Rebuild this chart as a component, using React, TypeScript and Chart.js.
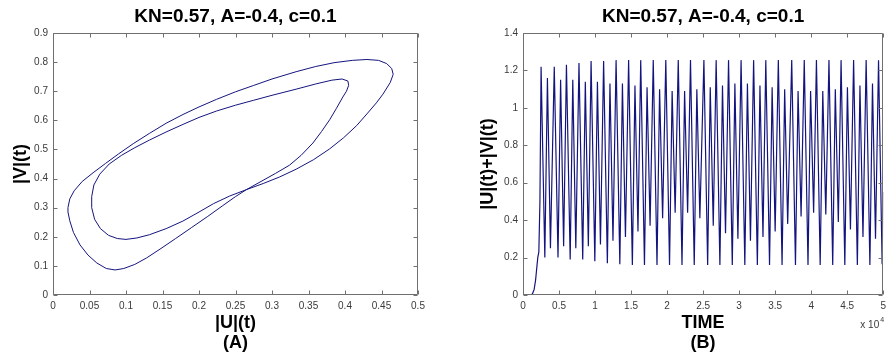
import React, { useEffect, useRef } from "react";
import { Chart, registerables } from "chart.js";

Chart.register(...registerables);

const FONT = "'Liberation Sans', Arial, Helvetica, sans-serif";
Chart.defaults.font.family = FONT;

const TITLE = "KN=0.57, A=-0.4, c=0.1";

// ---- Panel (A): phase portrait |U|(t) vs |V|(t) (closed period-2 orbit) ----
const phaseU = [
  0.0205, 0.023, 0.029, 0.040, 0.055, 0.072, 0.090, 0.110, 0.132, 0.155, 0.178, 0.200, 0.224, 0.250, 0.275, 0.300,
  0.333, 0.360, 0.385, 0.410, 0.430, 0.446, 0.457, 0.464, 0.466, 0.462, 0.452, 0.443, 0.430, 0.416, 0.398, 0.379,
  0.357, 0.333, 0.310, 0.288, 0.265,
  0.242, 0.220, 0.200, 0.178, 0.155, 0.132, 0.115, 0.100, 0.088, 0.076, 0.065, 0.057, 0.053, 0.053, 0.056, 0.064,
  0.077, 0.094, 0.112, 0.132, 0.155, 0.178, 0.200, 0.224, 0.250, 0.275, 0.300, 0.333, 0.360, 0.382, 0.396, 0.404,
  0.405, 0.402, 0.397, 0.388, 0.379, 0.368, 0.356, 0.340, 0.324, 0.305, 0.285, 0.265,
  0.250, 0.232, 0.212, 0.190, 0.168, 0.148, 0.128, 0.112, 0.097, 0.085, 0.073, 0.060, 0.048, 0.037, 0.028, 0.023,
  0.0205, 0.0205,
];
const phaseV = [
  0.300, 0.330, 0.358, 0.390, 0.420, 0.452, 0.485, 0.520, 0.555, 0.590, 0.620, 0.646, 0.672, 0.698, 0.720, 0.742,
  0.767, 0.785, 0.798, 0.806, 0.809, 0.806, 0.795, 0.778, 0.758, 0.730, 0.690, 0.660, 0.622, 0.582, 0.540, 0.502,
  0.465, 0.432, 0.405, 0.383, 0.362,
  0.340, 0.314, 0.285, 0.254, 0.228, 0.207, 0.196, 0.191, 0.194, 0.205, 0.228, 0.260, 0.300, 0.338, 0.378, 0.415,
  0.450, 0.480, 0.506, 0.532, 0.560, 0.586, 0.610, 0.632, 0.652, 0.669, 0.686, 0.707, 0.725, 0.738, 0.742, 0.735,
  0.720, 0.700, 0.680, 0.640, 0.602, 0.562, 0.522, 0.480, 0.446, 0.418, 0.390, 0.362,
  0.338, 0.306, 0.270, 0.232, 0.194, 0.160, 0.127, 0.105, 0.091, 0.086, 0.091, 0.110, 0.137, 0.172, 0.215, 0.255,
  0.285, 0.300,
];
const phaseUTicks = [0, 0.05, 0.1, 0.15, 0.2, 0.25, 0.3, 0.35, 0.4, 0.45, 0.5];
const phaseVTicks = [0, 0.1, 0.2, 0.3, 0.4, 0.5, 0.6, 0.7, 0.8, 0.9];

// ---- Panel (B): |U|(t)+|V|(t) versus TIME (in units of 10^4) ----
const timeE4 = [
  0, 0.10, 0.13, 0.155, 0.175, 0.19, 0.205, 0.22, 0.235,
  0.251, 0.303, 0.339, 0.381,
  0.434, 0.486, 0.522, 0.564,
  0.603, 0.655, 0.691, 0.733,
  0.777, 0.829, 0.865, 0.907,
  0.945, 0.997, 1.033, 1.075,
  1.119, 1.171, 1.207, 1.249,
  1.292, 1.344, 1.380, 1.422,
  1.466, 1.518, 1.554, 1.596,
  1.634, 1.686, 1.722, 1.764,
  1.808, 1.860, 1.896, 1.938,
  1.982, 2.034, 2.070, 2.112,
  2.155, 2.207, 2.243, 2.285,
  2.325, 2.377, 2.413, 2.455,
  2.511, 2.563, 2.599, 2.641,
  2.681, 2.733, 2.769, 2.811,
  2.853, 2.905, 2.941, 2.983,
  3.027, 3.079, 3.115, 3.157,
  3.201, 3.253, 3.289, 3.331,
  3.370, 3.422, 3.458, 3.500,
  3.544, 3.596, 3.632, 3.674,
  3.730, 3.782, 3.818, 3.860,
  3.904, 3.956, 3.992, 4.034,
  4.073, 4.125, 4.161, 4.203,
  4.247, 4.299, 4.335, 4.377,
  4.415, 4.467, 4.503, 4.545,
  4.589, 4.641, 4.677, 4.719,
  4.763, 4.815, 4.851, 4.893,
  4.935, 4.985, 5.000,
];
const sumUV = [
  0, 0, 0.005, 0.03, 0.08, 0.14, 0.20, 0.23, 0.50,
  1.22, 0.20, 1.16, 0.25,
  1.22, 0.20, 1.15, 0.26,
  1.23, 0.19, 1.15, 0.25,
  1.24, 0.19, 1.14, 0.26,
  1.25, 0.18, 1.14, 0.27,
  1.25, 0.17, 1.13, 0.29,
  1.255, 0.165, 1.13, 0.31,
  1.255, 0.16, 1.12, 0.34,
  1.255, 0.16, 1.11, 0.37,
  1.255, 0.16, 1.10, 0.41,
  1.255, 0.16, 1.09, 0.44,
  1.255, 0.16, 1.09, 0.44,
  1.255, 0.16, 1.10, 0.41,
  1.255, 0.16, 1.11, 0.37,
  1.255, 0.16, 1.12, 0.33,
  1.255, 0.16, 1.13, 0.30,
  1.255, 0.16, 1.13, 0.29,
  1.255, 0.16, 1.12, 0.31,
  1.255, 0.16, 1.11, 0.34,
  1.255, 0.16, 1.10, 0.38,
  1.255, 0.16, 1.09, 0.42,
  1.255, 0.16, 1.09, 0.44,
  1.255, 0.16, 1.09, 0.43,
  1.255, 0.16, 1.10, 0.39,
  1.255, 0.16, 1.11, 0.35,
  1.255, 0.16, 1.12, 0.31,
  1.255, 0.16, 1.13, 0.30,
  1.255, 0.165, 0.55,
];
const timeTicks = [0, 0.5, 1, 1.5, 2, 2.5, 3, 3.5, 4, 4.5, 5];
const sumTicks = [0, 0.2, 0.4, 0.6, 0.8, 1, 1.2, 1.4];

const LINE_COLOR = "#14147e";
const AXIS_COLOR = "#707070";
const TICK_TEXT = "#3a3a3a";

const fmt = (v: number) => String(Number(v.toFixed(3)));

const boxPlugin = {
  id: "matlabBox",
  afterDraw(chart: any, _args: any, opts: any) {
    const { ctx, chartArea: a, scales } = chart;
    const L = Math.round(a.left) + 0.5;
    const R = Math.round(a.right) - 0.5;
    const T = Math.round(a.top) + 0.5;
    const B = Math.round(a.bottom) - 0.5;
    const tl = 4;
    ctx.save();
    ctx.strokeStyle = AXIS_COLOR;
    ctx.lineWidth = 1;
    ctx.beginPath();
    ctx.rect(L, T, R - L, B - T);
    scales.x.ticks.forEach((t: any) => {
      const px = Math.round(scales.x.getPixelForValue(t.value)) + 0.5;
      ctx.moveTo(px, B);
      ctx.lineTo(px, B - tl);
      ctx.moveTo(px, T);
      ctx.lineTo(px, T + tl);
    });
    scales.y.ticks.forEach((t: any) => {
      const py = Math.round(scales.y.getPixelForValue(t.value)) + 0.5;
      ctx.moveTo(L, py);
      ctx.lineTo(L + tl, py);
      ctx.moveTo(R, py);
      ctx.lineTo(R - tl, py);
    });
    ctx.stroke();
    if (opts && opts.exponent) {
      ctx.fillStyle = TICK_TEXT;
      ctx.textBaseline = "alphabetic";
      ctx.textAlign = "right";
      ctx.font = `10px ${FONT}`;
      const xr = a.right - 4;
      ctx.fillText("x 10", xr, a.bottom + 33);
      ctx.textAlign = "left";
      ctx.font = `7px ${FONT}`;
      ctx.fillText("4", xr + 1, a.bottom + 27);
    }
    ctx.restore();
  },
};

function makeConfig(p: {
  xs: number[];
  ys: number[];
  xTicks: number[];
  yTicks: number[];
  xTitle: string[];
  yTitle: string;
  yWidth: number;
  yTitlePad: number;
  padRight: number;
  exponent: boolean;
  lineWidth: number;
}): any {
  const points = p.xs.map((x, i) => ({ x, y: p.ys[i] }));
  const titleFont = { size: 18, weight: "bold" as const, family: FONT, lineHeight: "20px" };
  const tickFont = { size: 10, family: FONT };
  return {
    type: "scatter",
    data: {
      datasets: [
        {
          data: points,
          showLine: true,
          pointRadius: 0,
          pointHoverRadius: 0,
          borderColor: LINE_COLOR,
          borderWidth: p.lineWidth,
          tension: 0,
          fill: false,
        },
      ],
    },
    options: {
      animation: false,
      responsive: false,
      events: [],
      layout: { padding: { left: 0, right: p.padRight, top: 0, bottom: 0 } },
      plugins: {
        legend: { display: false },
        tooltip: { enabled: false },
        title: {
          display: true,
          fullSize: false,
          text: TITLE,
          color: "#000",
          font: { size: 19, weight: "bold", family: FONT, lineHeight: "22px" },
          padding: { top: 6, bottom: 5 },
        },
        matlabBox: { exponent: p.exponent },
      },
      scales: {
        x: {
          type: "linear",
          min: p.xTicks[0],
          max: p.xTicks[p.xTicks.length - 1],
          afterBuildTicks: (s: any) => {
            s.ticks = p.xTicks.map((v) => ({ value: v }));
          },
          afterFit: (s: any) => {
            s.height = 65;
          },
          grid: { display: false, drawTicks: false },
          border: { display: false },
          ticks: {
            color: TICK_TEXT,
            font: tickFont,
            padding: 5,
            maxRotation: 0,
            autoSkip: false,
            callback: (v: number) => fmt(v),
          },
          title: {
            display: true,
            text: p.xTitle,
            color: "#000",
            font: titleFont,
            padding: { top: 0, bottom: 7 },
          },
        },
        y: {
          type: "linear",
          min: p.yTicks[0],
          max: p.yTicks[p.yTicks.length - 1],
          afterBuildTicks: (s: any) => {
            s.ticks = p.yTicks.map((v) => ({ value: v }));
          },
          afterFit: (s: any) => {
            s.width = p.yWidth;
          },
          grid: { display: false, drawTicks: false },
          border: { display: false },
          ticks: {
            color: TICK_TEXT,
            font: tickFont,
            padding: 5,
            autoSkip: false,
            callback: (v: number) => fmt(v),
          },
          title: {
            display: true,
            text: p.yTitle,
            color: "#000",
            font: titleFont,
            padding: { top: p.yTitlePad, bottom: 0 },
          },
        },
      },
    },
    plugins: [boxPlugin],
  };
}

function Plot(props: { config: () => any; left: number; width: number }) {
  const ref = useRef<HTMLCanvasElement>(null);
  useEffect(() => {
    const chart = new Chart(ref.current as HTMLCanvasElement, props.config());
    return () => chart.destroy();
  }, []);
  return (
    <canvas
      ref={ref}
      width={props.width}
      height={360}
      style={{ position: "absolute", left: props.left, top: 0, width: props.width, height: 360, display: "block" }}
    />
  );
}

export default function App() {
  return (
    <div
      style={{
        position: "fixed",
        left: 0,
        top: 0,
        width: 891,
        height: 360,
        background: "#ffffff",
        overflow: "hidden",
      }}
    >
      <Plot
        left={0}
        width={445}
        config={() =>
          makeConfig({
            xs: phaseU,
            ys: phaseV,
            xTicks: phaseUTicks,
            yTicks: phaseVTicks,
            xTitle: ["|U|(t)", "(A)"],
            yTitle: "|V|(t)",
            yWidth: 53,
            yTitlePad: 11,
            padRight: 27,
            exponent: false,
            lineWidth: 1,
          })
        }
      />
      <Plot
        left={445}
        width={446}
        config={() =>
          makeConfig({
            xs: timeE4,
            ys: sumUV,
            xTicks: timeTicks,
            yTicks: sumTicks,
            xTitle: ["TIME", "(B)"],
            yTitle: "|U|(t)+|V|(t)",
            yWidth: 78,
            yTitlePad: 33,
            padRight: 3,
            exponent: true,
            lineWidth: 1.2,
          })
        }
      />
    </div>
  );
}
